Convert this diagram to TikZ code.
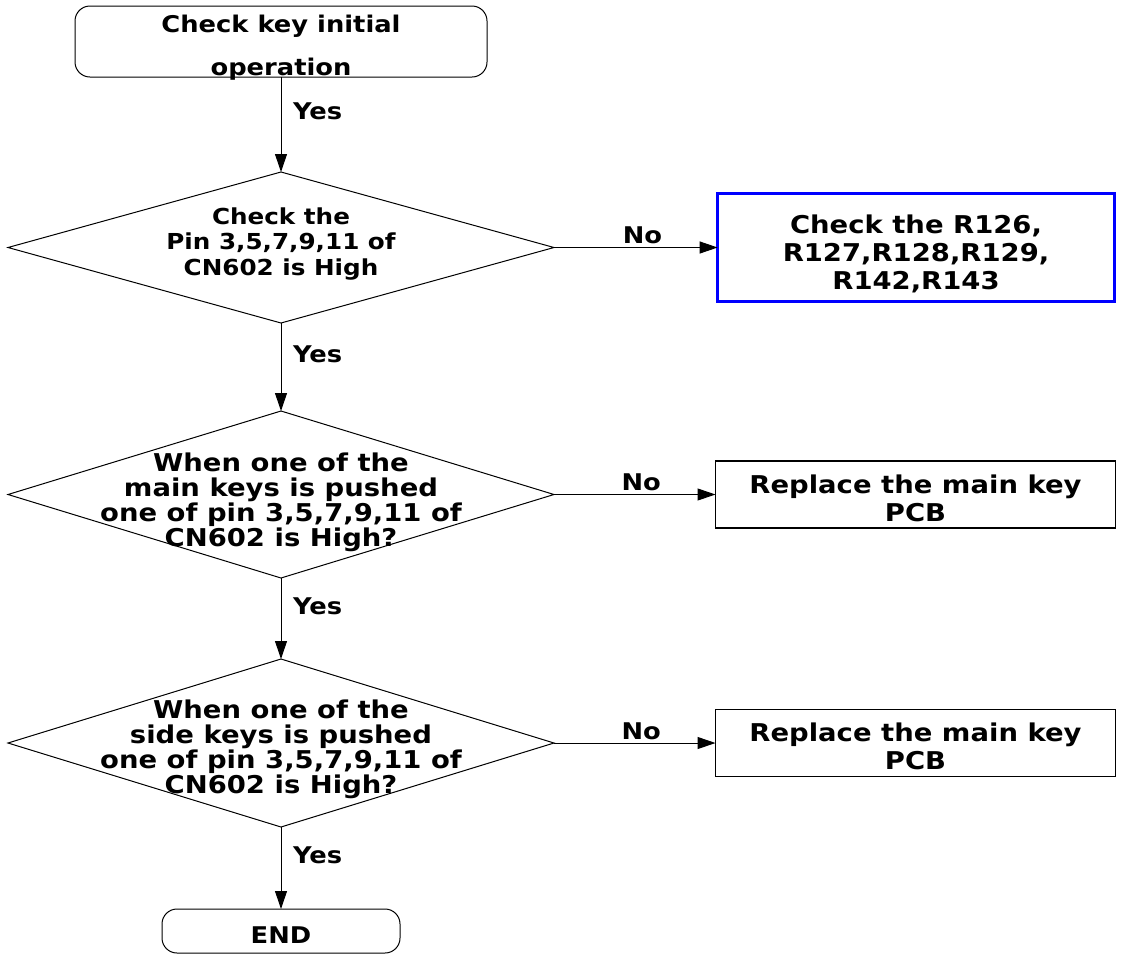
\documentclass[tikz,border=0pt]{standalone}
\usepackage{fontspec}
\setmainfont{DejaVu Sans}[FakeStretch=1.12]
\usetikzlibrary{shapes,arrows.meta}
\lineskiplimit=-100pt

\begin{document}
\begin{tikzpicture}[x=1pt, y=-1pt,
  every node/.style={align=center, inner sep=0pt, outer sep=0pt},
  flow/.style={line width=1pt, -{Triangle[length=18pt, width=12pt]}},
  term/.style={draw, line width=1pt, rounded corners=15pt, font=\bfseries\fontsize{23}{43}\selectfont},
  decision/.style={draw, diamond, line width=1pt, minimum width=546pt},
  qtext/.style={anchor=base, font=\bfseries\fontsize{24.5}{25}\selectfont},
  fixbox/.style={draw, line width=1.2pt, minimum width=400pt, minimum height=67pt, text height=53pt, text depth=0pt, font=\bfseries\fontsize{24.5}{28}\selectfont},
  yeslbl/.style={pos=0.45, anchor=base west, xshift=12pt, font=\bfseries\fontsize{23}{23}\selectfont},
  nolbl/.style={pos=0.54, anchor=base, yshift=4pt, font=\bfseries\fontsize{23}{23}\selectfont}]
\useasboundingbox (0,0) rectangle (1121,954);

\node[term, minimum width=412pt, minimum height=71pt, text height=67pt, text depth=0pt] (start) at (281,41.5) {Check key initial\\operation};
\node[term, minimum width=238pt, minimum height=44pt, text height=24pt, text depth=0pt] (stop) at (281,931) {END};

\node[decision, minimum height=151pt] (q1) at (281,247.5) {};
\node[decision, minimum height=167pt] (q2) at (281,494.5) {};
\node[decision, minimum height=168pt] (q3) at (281,743) {};
\node[qtext, font=\bfseries\fontsize{22}{25.5}\selectfont] (q1txt) at ([yshift=-27.5pt]q1.center) {Check the\\Pin 3,5,7,9,11 of\\CN602 is High};
\node[qtext] (q2txt) at ([yshift=-51.5pt]q2.center) {When one of the\\main keys is pushed\\one of pin 3,5,7,9,11 of\\CN602 is High?};
\node[qtext] (q3txt) at ([yshift=-50pt]q3.center) {When one of the\\side keys is pushed\\one of pin 3,5,7,9,11 of\\CN602 is High?};

\node[fixbox, draw=blue, line width=3.3pt, minimum width=396.7pt, minimum height=107.7pt, text height=83pt, text depth=0pt] (fix1) at (916,247.5) {Check the R126,\\R127,R128,R129,\\R142,R143};
\node[fixbox] (fix2) at (915.5,494.5) {Replace the main key\\PCB};
\node[fixbox] (fix3) at (915.5,743) {Replace the main key\\PCB};

\foreach \a/\b in {start/q1, q1/q2, q2/q3, q3/stop}
  \draw[flow] (\a.south) -- node[yeslbl] {Yes} (\b.north);
\foreach \a/\b in {q1/fix1, q2/fix2, q3/fix3}
  \draw[flow] (\a.east) -- node[nolbl] {No} (\a.east -| \b.west);
\end{tikzpicture}
\end{document}
